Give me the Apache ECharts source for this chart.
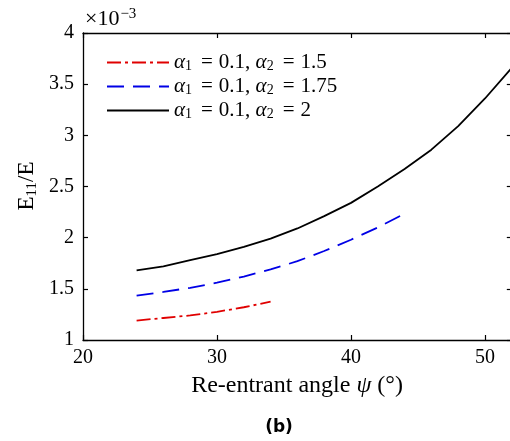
<!DOCTYPE html>
<html><head><meta charset="utf-8">
<script src="https://cdn.jsdelivr.net/npm/echarts@6/dist/echarts.min.js"></script>
<style>html,body{margin:0;padding:0;background:#fff}#c{width:510px;height:441px}</style>
</head><body><div id="c"></div>
<script>
// Data (values in units of 1e-3)
const xRed = [24, 26, 28, 30, 32, 34];
const yRed = [1.19, 1.215, 1.24, 1.275, 1.32, 1.374];
const xBlue = [24, 26, 28, 30, 32, 34, 36, 38, 40, 42, 44];
const yBlue = [1.433, 1.47, 1.51, 1.56, 1.62, 1.69, 1.77, 1.87, 1.98, 2.10, 2.235];
const xBlack = [24, 26, 28, 30, 32, 34, 36, 38, 40, 42, 44, 46, 48, 50, 52];
const yBlack = [1.68, 1.72, 1.78, 1.84, 1.91, 1.99, 2.09, 2.21, 2.34, 2.50, 2.67, 2.86, 3.09, 3.36, 3.66];
const seriesNames = ['s15', 's175', 's2'];
const legendLabels = {
  s15: '{a|α}{s|1}{e|=}{t|0.1, }{a|α}{s|2}{e|=}{t|1.5}',
  s175: '{a|α}{s|1}{e|=}{t|0.1, }{a|α}{s|2}{e|=}{t|1.75}',
  s2: '{a|α}{s|1}{e|=}{t|0.1, }{a|α}{s|2}{e|=}{t|2}'
};
const xTicks = [20, 30, 40, 50];
const yTicks = [1, 1.5, 2, 2.5, 3, 3.5, 4];

const FONT = 'Liberation Serif';
const zip = (xs, ys) => xs.map((x, i) => [x, ys[i]]);
const rich = {
  a: {fontFamily: FONT, fontStyle: 'italic', fontSize: 21, color: '#000'},
  s: {fontFamily: FONT, fontSize: 14, color: '#000', verticalAlign: 'bottom', padding: [8, 0, 0, 0]},
  e: {fontFamily: FONT, fontSize: 21, color: '#000', padding: [0, 6, 0, 9]},
  t: {fontFamily: FONT, fontSize: 21, color: '#000'}
};
const axisBase = {
  type: 'value',
  axisLine: {show: true, onZero: false, lineStyle: {color: '#000', width: 1.3}},
  axisTick: {show: true, inside: true, length: 5, lineStyle: {color: '#000', width: 1.2}},
  splitLine: {show: false}
};
const chart = echarts.init(document.getElementById('c'), null, {renderer: 'canvas'});
function mkLegend(name, top) {
  return {
    data: [name], left: 106, top: top, orient: 'vertical', padding: 0,
    itemWidth: 62, itemHeight: 12, itemGap: 0, selectedMode: false,
    itemStyle: {opacity: 0},
    formatter: n => legendLabels[n],
    textStyle: {fontFamily: FONT, fontSize: 21, color: '#000', rich: rich}
  };
}
chart.setOption({
  animation: false,
  backgroundColor: '#fff',
  grid: {left: 83, top: 33, right: -1.8, bottom: 101, outerBoundsMode: 'none', containLabel: false},
  xAxis: [
    Object.assign({}, axisBase, {min: 20, max: 52, interval: 10, position: 'bottom',
      axisLabel: {show: true, fontFamily: FONT, fontSize: 20, color: '#000', margin: 8, showMaxLabel: false,
        formatter: v => xTicks.includes(v) ? String(v) : ''}}),
    Object.assign({}, axisBase, {min: 20, max: 52, interval: 10, position: 'top', axisLabel: {show: false}})
  ],
  yAxis: [
    Object.assign({}, axisBase, {min: 1, max: 4, interval: 0.5, position: 'left',
      axisLabel: {show: true, fontFamily: FONT, fontSize: 20, color: '#000', margin: 9,
        formatter: v => yTicks.includes(v) ? String(v) : ''}}),
    Object.assign({}, axisBase, {min: 1, max: 4, interval: 0.5, position: 'right', axisLabel: {show: false}})
  ],
  legend: [mkLegend('s15', 52), mkLegend('s175', 76), mkLegend('s2', 100)],
  series: [
    {name: 's15', type: 'line', data: zip(xRed, yRed), symbol: 'none', smooth: false,
      itemStyle: {color: '#e00000'},
      lineStyle: {color: '#e00000', width: 1.8, type: [14, 4, 3, 4]}},
    {name: 's175', type: 'line', data: zip(xBlue, yBlue), symbol: 'none', smooth: false,
      itemStyle: {color: '#0000e6'},
      lineStyle: {color: '#0000e6', width: 1.8, type: [17, 9]}},
    {name: 's2', type: 'line', data: zip(xBlack, yBlack), symbol: 'none', smooth: false,
      itemStyle: {color: '#000'},
      lineStyle: {color: '#000', width: 1.8, type: 'solid'}}
  ],
  graphic: [
    {type: 'text', left: 85, top: 7, style: {
      text: '{n|×10}{s|−3}',
      rich: {n: {fontFamily: FONT, fontSize: 22, color: '#000'},
             s: {fontFamily: FONT, fontSize: 15, color: '#000', verticalAlign: 'top', padding: [0, 0, 9, 1]}}}},
    {type: 'text', x: 27, y: 186, rotation: Math.PI / 2, style: {
      text: '{n|E}{s|11}{n|/E}', align: 'center', verticalAlign: 'middle',
      rich: {n: {fontFamily: FONT, fontSize: 23, color: '#000'},
             s: {fontFamily: FONT, fontSize: 15, color: '#000', padding: [10, 0, 0, 0]}}}},
    {type: 'text', x: 297, y: 386, style: {
      text: '{n|Re-entrant angle }{i|ψ}{n| (°)}', align: 'center', verticalAlign: 'middle',
      rich: {n: {fontFamily: FONT, fontSize: 24, color: '#000'},
             i: {fontFamily: FONT, fontSize: 24, fontStyle: 'italic', color: '#000'}}}},
    {type: 'text', x: 279, y: 428, style: {
      text: '(b)', align: 'center', verticalAlign: 'middle',
      fontFamily: 'DejaVu Sans', fontWeight: 'bold', fontSize: 17, fill: '#000'}}
  ]
});
</script></body></html>
